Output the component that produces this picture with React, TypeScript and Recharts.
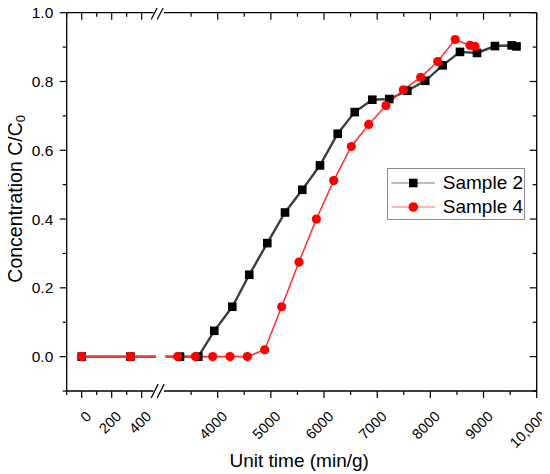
import React from "react";
import {
  LineChart,
  Line,
  XAxis,
  YAxis,
  ReferenceLine,
  ReferenceArea,
  Legend,
} from "recharts";

// measured points (unit time in min/g, concentration C/C0)
const SAMPLE2_X = [
  0, 325, 3291, 3635, 3936, 4275, 4594, 4933, 5266, 5591, 5924, 6257, 6577,
  6908, 7227, 7566, 7904, 8232, 8557, 8877, 9215, 9529, 9620,
];
const SAMPLE2_Y = [
  0, 0, 0, 0, 0.075, 0.145, 0.238, 0.33, 0.419, 0.485, 0.556, 0.648, 0.711,
  0.747, 0.749, 0.773, 0.802, 0.847, 0.886, 0.883, 0.903, 0.905, 0.902,
];
const SAMPLE4_X = [
  0, 325, 3248, 3579, 3906, 4231, 4557, 4884, 5204, 5529, 5856, 6182, 6513,
  6840, 7165, 7491, 7818, 8138, 8467, 8745, 8839,
];
const SAMPLE4_Y = [
  0, 0, 0, 0, 0, 0, 0, 0.02, 0.145, 0.275, 0.4, 0.512, 0.611, 0.675, 0.73,
  0.776, 0.812, 0.858, 0.922, 0.905, 0.902,
];

const MAJOR_X = [0, 200, 400, 4000, 5000, 6000, 7000, 8000, 9000, 10000];
const MINOR_X = [-100, 100, 300, 3500, 4500, 5500, 6500, 7500, 8500, 9500];
const MAJOR_Y = [0, 0.2, 0.4, 0.6, 0.8, 1.0];
const MINOR_Y = [-0.1, 0.1, 0.3, 0.5, 0.7, 0.9];

const FONT = "Arial, 'Liberation Sans', sans-serif";
const AXIS = "#000";
const MAJOR_LEN = 7;
const MINOR_LEN = 4;

// broken x axis: -100..~480 on the left piece, ~3060..10000 on the right piece
const uOf = (x: number) =>
  x < 1000 ? 0.15 * (x + 100) : 151 + 0.05317 * (x - 4000);
const U_MAX = uOf(10000);
const BREAK_L = 86.8;
const BREAK_R = 97.3;
const Y_MIN = -0.1;
const Y_MAX = 1.0;

const toRows = (xs: number[], ys: number[]) =>
  xs.map((x, i) => ({ u: uOf(x), c: ys[i] }));

const sample2 = toRows(SAMPLE2_X, SAMPLE2_Y);
const sample4 = toRows(SAMPLE4_X, SAMPLE4_Y);

const mergeTicks = (major: number[], minor: number[]) =>
  [
    ...major.map((v) => ({ v, major: true })),
    ...minor.map((v) => ({ v, major: false })),
  ].sort((a, b) => a.v - b.v);

const X_TICKS = mergeTicks(MAJOR_X, MINOR_X);
const Y_TICKS = mergeTicks(MAJOR_Y, MINOR_Y);
const xTickU = X_TICKS.map((t) => uOf(t.v));
const yTickV = Y_TICKS.map((t) => t.v);

const fmtX = (v: number) => (v >= 10000 ? v.toLocaleString("en-US") : String(v));

function BottomTick(props: any) {
  const { x, y, index } = props;
  const t = X_TICKS[index];
  if (!t) return null;
  const ax = x + 10.5;
  const ay = y + 26.4;
  return (
    <g>
      <line
        x1={x}
        y1={y}
        x2={x}
        y2={y + (t.major ? MAJOR_LEN : MINOR_LEN)}
        stroke={AXIS}
        strokeWidth={1.2}
      />
      {t.major && (
        <text
          x={ax}
          y={ay}
          textAnchor="end"
          transform={`rotate(-45 ${ax} ${ay})`}
          fontSize={14.5}
          fill="#000"
          fontFamily={FONT}
        >
          {fmtX(t.v)}
        </text>
      )}
    </g>
  );
}

function TopTick(props: any) {
  const { x, y, index } = props;
  const t = X_TICKS[index];
  if (!t) return null;
  return (
    <line
      x1={x}
      y1={y}
      x2={x}
      y2={y + (t.major ? MAJOR_LEN : MINOR_LEN)}
      stroke={AXIS}
      strokeWidth={1.2}
    />
  );
}

function LeftTick(props: any) {
  const { x, y, index } = props;
  const t = Y_TICKS[index];
  if (!t) return null;
  return (
    <g>
      <line
        x1={x - (t.major ? MAJOR_LEN : MINOR_LEN)}
        y1={y}
        x2={x}
        y2={y}
        stroke={AXIS}
        strokeWidth={1.2}
      />
      {t.major && (
        <text
          x={x - 13.4}
          y={y}
          dy="0.36em"
          textAnchor="end"
          fontSize={15.5}
          fill="#000"
          fontFamily={FONT}
        >
          {t.v.toFixed(1)}
        </text>
      )}
    </g>
  );
}

function RightTick(props: any) {
  const { x, y, index } = props;
  const t = Y_TICKS[index];
  if (!t) return null;
  return (
    <line
      x1={x - (t.major ? MAJOR_LEN : MINOR_LEN)}
      y1={y}
      x2={x}
      y2={y}
      stroke={AXIS}
      strokeWidth={1.2}
    />
  );
}

function XLabel(props: any) {
  const { x, y, width } = props.viewBox;
  return (
    <text
      x={x + width / 2 - 2.5}
      y={y + 75.7}
      textAnchor="middle"
      fontSize={19}
      fill="#000"
      fontFamily={FONT}
    >
      Unit time (min/g)
    </text>
  );
}

function YLabel(props: any) {
  const { x, y, height } = props.viewBox;
  const cx = x + 15;
  const cy = y + height / 2 - 3;
  return (
    <text
      x={cx}
      y={cy}
      textAnchor="middle"
      dominantBaseline="central"
      transform={`rotate(-90 ${cx} ${cy})`}
      fontSize={19.5}
      fill="#000"
      fontFamily={FONT}
    >
      Concentration C/C
      <tspan fontSize={13} dy={5}>
        0
      </tspan>
    </text>
  );
}

const squareDot = (p: any) =>
  p.cx == null ? null : (
    <rect
      key={`sq-${p.index}`}
      x={p.cx - 4.3}
      y={p.cy - 4.3}
      width={8.6}
      height={8.6}
      fill="#000"
    />
  );

const circleDot = (p: any) =>
  p.cx == null ? null : (
    <circle key={`ci-${p.index}`} cx={p.cx} cy={p.cy} r={4.6} fill="#ff0000" />
  );

const SERIES = [
  { name: "Sample 2", line: "#7a7a7a", marker: "square", fill: "#000" },
  { name: "Sample 4", line: "#ff6b6b", marker: "circle", fill: "#ff0000" },
];

function LegendBox() {
  return (
    <div
      style={{
        width: 138,
        height: 52,
        boxSizing: "border-box",
        border: "1px solid #8a8a8a",
        background: "#fff",
        paddingTop: 1.5,
        fontFamily: FONT,
      }}
    >
      {SERIES.map((s) => (
        <div
          key={s.name}
          style={{ display: "flex", alignItems: "center", height: 24 }}
        >
          <svg width={46} height={14} style={{ marginLeft: 2, flex: "none" }}>
            <line x1={1.5} y1={7} x2={45} y2={7} stroke={s.line} strokeWidth={1} />
            {s.marker === "square" ? (
              <rect x={19} y={2.7} width={8.6} height={8.6} fill={s.fill} />
            ) : (
              <circle cx={23.3} cy={7} r={4.8} fill={s.fill} />
            )}
          </svg>
          <span style={{ marginLeft: 6.5, fontSize: 19, color: "#000", lineHeight: "24px" }}>
            {s.name}
          </span>
        </div>
      ))}
    </div>
  );
}

const slash = (u0: number, y: number) => [
  { x: u0, y: y - 0.02 },
  { x: u0 + 7, y: y + 0.02 },
];

export default function App() {
  return (
    <div style={{ width: 550, height: 474, margin: "-8px 0 0 -8px", fontFamily: FONT }}>
      <LineChart
        width={550}
        height={474}
        margin={{ top: 12.7, right: 13.3, left: 0, bottom: 0 }}
      >
        <XAxis
          xAxisId="b"
          dataKey="u"
          type="number"
          domain={[0, U_MAX]}
          ticks={xTickU}
          interval={0}
          tickSize={0}
          tickMargin={0}
          tickLine={false}
          tick={<BottomTick />}
          axisLine={false}
          height={83}
          allowDataOverflow
          label={<XLabel />}
        />
        <XAxis
          xAxisId="t"
          dataKey="u"
          orientation="top"
          mirror
          type="number"
          domain={[0, U_MAX]}
          ticks={xTickU}
          interval={0}
          tickSize={0}
          tickMargin={0}
          tickLine={false}
          tick={<TopTick />}
          axisLine={false}
          height={1}
          allowDataOverflow
        />
        <YAxis
          yAxisId="l"
          type="number"
          domain={[Y_MIN, Y_MAX]}
          ticks={yTickV}
          interval={0}
          tickSize={0}
          tickMargin={0}
          tickLine={false}
          tick={<LeftTick />}
          axisLine={{ stroke: AXIS, strokeWidth: 1.3 }}
          width={66.7}
          allowDataOverflow
          label={<YLabel />}
        />
        <YAxis
          yAxisId="r"
          orientation="right"
          mirror
          type="number"
          domain={[Y_MIN, Y_MAX]}
          ticks={yTickV}
          interval={0}
          tickSize={0}
          tickMargin={0}
          tickLine={false}
          tick={<RightTick />}
          axisLine={{ stroke: AXIS, strokeWidth: 1.3 }}
          width={1}
          allowDataOverflow
        />

        <Line
          xAxisId="b"
          yAxisId="l"
          data={sample2}
          dataKey="c"
          name="Sample 2"
          type="linear"
          stroke="#3e3e3e"
          strokeWidth={2.4}
          dot={squareDot}
          activeDot={false}
          isAnimationActive={false}
        />
        <Line
          xAxisId="t"
          yAxisId="r"
          data={sample4}
          dataKey="c"
          name="Sample 4"
          type="linear"
          stroke="#ff3535"
          strokeWidth={1.6}
          dot={circleDot}
          activeDot={false}
          isAnimationActive={false}
        />

        {/* gap where the axis is broken */}
        <ReferenceArea
          xAxisId="b"
          yAxisId="l"
          x1={89.5}
          x2={98.5}
          y1={Y_MIN}
          y2={Y_MAX}
          fill="#fff"
          fillOpacity={1}
          stroke="none"
          ifOverflow="visible"
          zIndex={1500}
        />
        {[Y_MIN, Y_MAX].map((yv) => (
          <React.Fragment key={`axis-${yv}`}>
            <ReferenceLine
              xAxisId="b"
              yAxisId="l"
              segment={[
                { x: 0, y: yv },
                { x: BREAK_L, y: yv },
              ]}
              stroke={AXIS}
              strokeWidth={1.3}
              ifOverflow="visible"
              zIndex={1600}
            />
            <ReferenceLine
              xAxisId="b"
              yAxisId="l"
              segment={[
                { x: BREAK_R, y: yv },
                { x: U_MAX, y: yv },
              ]}
              stroke={AXIS}
              strokeWidth={1.3}
              ifOverflow="visible"
              zIndex={1600}
            />
            <ReferenceLine
              xAxisId="b"
              yAxisId="l"
              segment={slash(84.5, yv)}
              stroke={AXIS}
              strokeWidth={1.2}
              ifOverflow="visible"
              zIndex={1600}
            />
            <ReferenceLine
              xAxisId="b"
              yAxisId="l"
              segment={slash(90.5, yv)}
              stroke={AXIS}
              strokeWidth={1.2}
              ifOverflow="visible"
              zIndex={1600}
            />
          </React.Fragment>
        ))}

        <Legend
          layout="vertical"
          align="center"
          verticalAlign="middle"
          content={() => <LegendBox />}
          wrapperStyle={{ left: 387.3, top: 168.3, width: 138, height: 52 }}
        />
      </LineChart>
    </div>
  );
}
